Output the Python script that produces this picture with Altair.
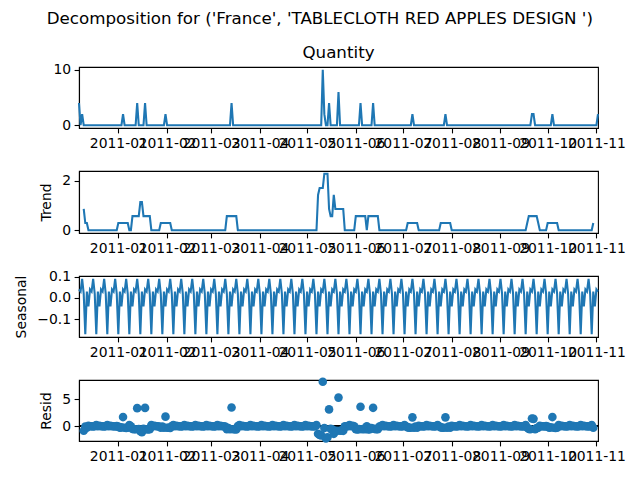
import altair as alt
import numpy as np
import pandas as pd

# series covers every day from first_day to last_day
first_day = "2010-12-07"
last_day = "2011-11-02"

# days with a sale (all other days are 0)
spike_dates = ["2010-12-07", "2010-12-09", "2011-01-04", "2011-01-13", "2011-01-18",
               "2011-01-31", "2011-03-14", "2011-05-11", "2011-05-12", "2011-05-15",
               "2011-05-21", "2011-06-04", "2011-06-12", "2011-07-07", "2011-07-28",
               "2011-09-21", "2011-09-22", "2011-10-04", "2011-11-02"]
spike_qty = [4, 2, 2, 4, 4, 2, 4, 10, 2, 4, 6, 4, 4, 2, 2, 2, 2, 2, 2]

# weekly seasonal pattern, starting on first_day
seasonal_week = [0.04, 0.03, 0.09, 0.02, -0.17, 0.03, -0.04]

# trend as runs of equal value, starting 3 days after first_day
trend_values = [0.86, 0.29, 0, 0.29, 0, 0.57, 1.14, 0.57, 0, 0.29, 0, 0.57, 0,
                1.43, 1.71, 2.29, 0.86, 0.57, 1.43, 0.86, 0, 0.57, 0, 0.57, 0,
                0.29, 0, 0.29, 0, 0.29, 0.57, 0.29, 0, 0.29, 0, 0.29]
trend_runs = [1, 2, 19, 7, 2, 5, 2, 5, 6, 7, 35, 7, 51,
              1, 3, 3, 1, 2, 1, 6, 7, 7, 1, 7, 18,
              7, 14, 7, 48, 1, 6, 1, 5, 7, 22, 1]

tick_months = ["2011-01", "2011-02", "2011-03", "2011-04", "2011-05", "2011-06",
               "2011-07", "2011-08", "2011-09", "2011-10", "2011-11"]

# build the table
dates = pd.date_range(first_day, last_day, freq="D")
quantity = pd.Series(0.0, index=dates)
quantity[pd.to_datetime(spike_dates)] = spike_qty
seasonal = np.resize(seasonal_week, len(dates))
trend = np.full(len(dates), np.nan)
trend[3:3 + sum(trend_runs)] = np.repeat(trend_values, trend_runs)

df = pd.DataFrame({
    "date": dates,
    "Quantity": quantity.values,
    "Trend": trend,
    "Seasonal": seasonal,
})
df["Resid"] = df["Quantity"] - df["Trend"] - df["Seasonal"]
df_t = df.dropna(subset=["Trend"])


def to_dt(s):
    d = pd.Timestamp(s)
    return alt.DateTime(year=d.year, month=d.month, date=d.day)


def x_enc():
    return alt.X("date:T", title=None,
                 scale=alt.Scale(domain=[to_dt(first_day), to_dt(last_day)]),
                 axis=alt.Axis(values=[to_dt(m + "-01") for m in tick_months],
                               format="%Y-%m", labelOverlap=False, labelFlush=False))


def y_enc(field, lo, hi, ticks, title, fmt=None):
    ax = alt.Axis(values=ticks, format=fmt) if fmt else alt.Axis(values=ticks)
    return alt.Y(field + ":Q", title=title, axis=ax,
                 scale=alt.Scale(domain=[lo, hi], nice=False, zero=False))


W = 519
blue = "#1f77b4"

observed = alt.Chart(df).mark_line(color=blue, strokeWidth=2.08).encode(
    x=x_enc(), y=y_enc("Quantity", -0.5, 10.5, [0, 10], None)
).properties(width=W, height=61,
             title=alt.Title("Quantity", fontSize=16.7, fontWeight="normal",
                             font="DejaVu Sans", color="black", offset=1))

trend_chart = alt.Chart(df_t).mark_line(color=blue, strokeWidth=2.08).encode(
    x=x_enc(), y=y_enc("Trend", -0.114, 2.4, [0, 2], "Trend")
).properties(width=W, height=62)

seasonal_chart = alt.Chart(df).mark_line(color=blue, strokeWidth=2.08).encode(
    x=x_enc(), y=y_enc("Seasonal", -0.183, 0.103, [-0.1, 0.0, 0.1], "Seasonal", ".1f")
).properties(width=W, height=61)

zero_line = alt.Chart(df_t.head(1)).mark_rule(color="black", strokeWidth=2.08).encode(
    y=alt.datum(0)
)
resid_pts = alt.Chart(df_t).mark_circle(color=blue, size=74, opacity=1).encode(
    x=x_enc(), y=y_enc("Resid", -2.8, 8.6, [0, 5], "Resid")
)
resid_chart = alt.layer(zero_line, resid_pts).properties(width=W, height=61)

chart = alt.vconcat(
    observed, trend_chart, seasonal_chart, resid_chart, spacing=43,
    bounds="flush",
    title=alt.Title("Decomposition for ('France', 'TABLECLOTH RED APPLES DESIGN ')",
                    fontSize=16.7, fontWeight="normal", font="DejaVu Sans",
                    color="black", anchor="middle", offset=17)
).configure_axis(
    labelFont="DejaVu Sans", labelFontSize=13.9, labelColor="black",
    titleFont="DejaVu Sans", titleFontSize=13.9, titleFontWeight="normal",
    titleColor="black", tickColor="black", tickSize=4.9, tickWidth=1.1,
    domainColor="black", domainWidth=1.1, grid=False, labelPadding=3.5,
    titlePadding=8.6
).configure_view(
    stroke="black", strokeWidth=1.1
).properties(
    padding={"left": 5, "top": 2, "right": 5, "bottom": 5}
)

chart.save("out.html", embed_options={"renderer": "svg", "actions": False})
